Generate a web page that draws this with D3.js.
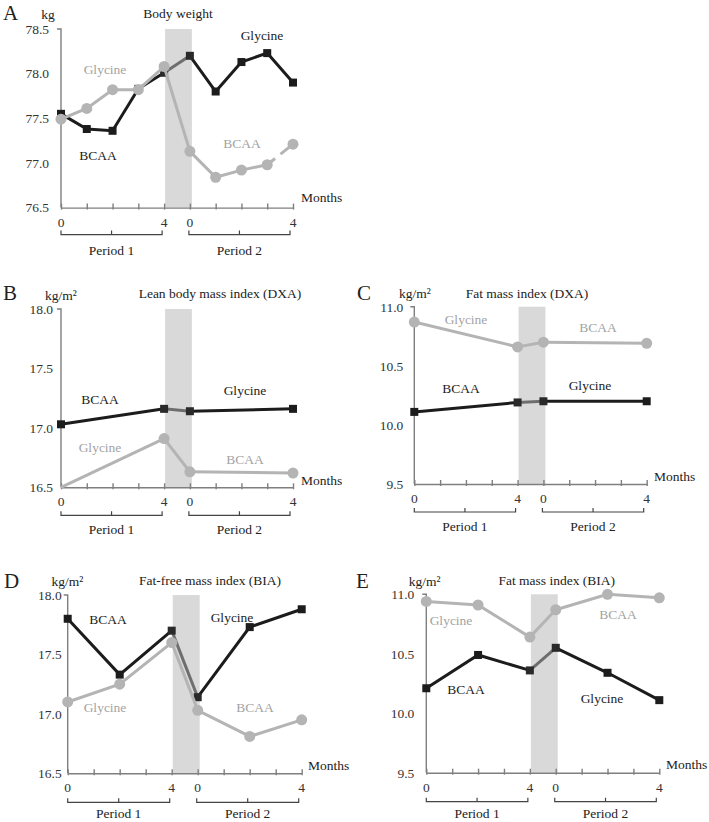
<!DOCTYPE html>
<html>
<head>
<meta charset="utf-8">
<script src="https://cdn.jsdelivr.net/npm/d3@7"></script>
<style>
  html, body { margin: 0; padding: 0; background: #fff; }
  svg { display: block; }
  svg text { font-family: "Liberation Serif", "DejaVu Serif", serif !important; }
</style>
</head>
<body>
<svg id="chart" width="709" height="822"></svg>
<script>
// ---------------- DATA ----------------
// x positions: 0..4 = Period 1 months 0..4, 5..9 = Period 2 months 0..4
const xTickPositions = [0, 4, 5, 9];
const xTickLabels = ["0", "4", "0", "4"];
const periodLabels = ["Period 1", "Period 2"];

// A: Body weight (kg), monthly
const weightPos = [0, 1, 2, 3, 4, 5, 6, 7, 8, 9];
const weightBlack = [77.55, 77.38, 77.36, 77.83, 78.01, 78.20, 77.80, 78.13, 78.23, 77.90]; // BCAA -> Glycine
const weightGray  = [77.49, 77.61, 77.82, 77.82, 78.08, 77.13, 76.84, 76.92, 76.98, 77.21]; // Glycine -> BCAA
const weightTicks = [76.5, 77.0, 77.5, 78.0, 78.5];

// B: Lean body mass index (DXA)
const lbmiPos = [0, 4, 5, 9];
const lbmiBlack = [17.03, 17.16, 17.14, 17.16];
const lbmiGray  = [16.50, 16.91, 16.63, 16.62];
const lbmiTicks = [16.5, 17.0, 17.5, 18.0];

// C: Fat mass index (DXA)
const fmiDxaPos = [0, 4, 5, 9];
const fmiDxaBlack = [10.11, 10.19, 10.20, 10.20];
const fmiDxaGray  = [10.87, 10.66, 10.70, 10.69];
const fmiTicks = [9.5, 10.0, 10.5, 11.0];

// D: Fat-free mass index (BIA)
const ffmiPos = [0, 2, 4, 5, 7, 9];
const ffmiBlack = [17.80, 17.33, 17.70, 17.14, 17.73, 17.88];
const ffmiGray  = [17.10, 17.25, 17.60, 17.03, 16.81, 16.95];

// E: Fat mass index (BIA)
const fmiBiaPos = [0, 2, 4, 5, 7, 9];
const fmiBiaBlack = [10.21, 10.49, 10.36, 10.55, 10.34, 10.11];
const fmiBiaGray  = [10.94, 10.91, 10.64, 10.87, 11.00, 10.97];

// ---------------- STYLE ----------------
const BLACK = "#1c1c1c", GRAY = "#b4b4b4", BRIDGE = "#6e6e6e", GRAYTXT = "#a3a3a3";
const BAND = "#d9d9d9", AXIS = "#7f7f7f";
const FS = 13.5;
const FONT = "Liberation Serif, DejaVu Serif, serif";

const panels = [
  { letter: "A", unit: "kg", title: "Body weight", pos: weightPos, black: weightBlack, gray: weightGray,
    ticks: weightTicks, domain: [76.5, 78.5], fmt: d3.format(".1f"),
    x0: 61, x1: 293, yTop: 29, yBot: 207.6, tickGap: 12, brOff: 27, perOff: 47,
    letterXY: [3, 20], unitXY: [48, 19], titleXY: [178, 18],
    labels: [["Glycine", 262, 40, BLACK], ["Glycine", 105, 74, GRAYTXT], ["BCAA", 98, 160, BLACK], ["BCAA", 242, 148, GRAYTXT]],
    monthsXY: [301, 202], grayDashSeg: 8 },
  { letter: "B", unit: "kg/m²", title: "Lean body mass index (DXA)", pos: lbmiPos, black: lbmiBlack, gray: lbmiGray,
    ticks: lbmiTicks, domain: [16.5, 18.0], fmt: d3.format(".1f"),
    x0: 61, x1: 293, yTop: 309, yBot: 487.3, tickGap: 8, brOff: 28, perOff: 47,
    letterXY: [3, 300], unitXY: [61, 300], titleXY: [220, 298],
    labels: [["BCAA", 100, 404, BLACK], ["Glycine", 245, 395, BLACK], ["Glycine", 100, 452, GRAYTXT], ["BCAA", 245, 464, GRAYTXT]],
    monthsXY: [301, 485] },
  { letter: "C", unit: "kg/m²", title: "Fat mass index (DXA)", pos: fmiDxaPos, black: fmiDxaBlack, gray: fmiDxaGray,
    ticks: fmiTicks, domain: [9.5, 11.0], fmt: d3.format(".1f"),
    x0: 414.3, x1: 646.7, yTop: 306.7, yBot: 484, tickGap: 11, brOff: 28, perOff: 47,
    letterXY: [357, 300], unitXY: [415, 298], titleXY: [527, 298],
    labels: [["Glycine", 466, 324, GRAYTXT], ["BCAA", 598, 332, GRAYTXT], ["BCAA", 461, 393, BLACK], ["Glycine", 590, 390, BLACK]],
    monthsXY: [654, 481] },
  { letter: "D", unit: "kg/m²", title: "Fat-free mass index (BIA)", pos: ffmiPos, black: ffmiBlack, gray: ffmiGray,
    ticks: lbmiTicks, domain: [16.5, 18.0], fmt: d3.format(".1f"),
    x0: 67.7, x1: 301.7, yTop: 595, yBot: 773.3, tickGap: 6, brOff: 29, perOff: 45,
    letterXY: [4, 588], unitXY: [67.5, 586], titleXY: [210, 585],
    labels: [["BCAA", 108, 624, BLACK], ["Glycine", 232, 622, BLACK], ["Glycine", 105, 712, GRAYTXT], ["BCAA", 255, 712, GRAYTXT]],
    monthsXY: [308, 770] },
  { letter: "E", unit: "kg/m²", title: "Fat mass index (BIA)", pos: fmiBiaPos, black: fmiBiaBlack, gray: fmiBiaGray,
    ticks: fmiTicks, domain: [9.5, 11.0], fmt: d3.format(".1f"),
    x0: 426.3, x1: 659.3, yTop: 594.3, yBot: 772.7, tickGap: 12, brOff: 29, perOff: 45,
    letterXY: [356, 588], unitXY: [424.7, 586], titleXY: [556.7, 585],
    labels: [["Glycine", 451, 625, GRAYTXT], ["BCAA", 618, 619, GRAYTXT], ["BCAA", 466, 694, BLACK], ["Glycine", 602, 703, BLACK]],
    monthsXY: [666, 769] }
];

const svg = d3.select("#chart");

function txt(g, s, xx, yy, size, fill, anchor) {
  return g.append("text").attr("x", xx).attr("y", yy).attr("font-size", size)
    .attr("font-family", FONT).attr("fill", fill).attr("text-anchor", anchor || "start").text(s);
}

panels.forEach(p => {
  const g = svg.append("g");
  const x = d3.scaleLinear().domain([0, 9]).range([p.x0, p.x1]);
  const y = d3.scaleLinear().domain(p.domain).range([p.yBot, p.yTop]);

  // washout band
  g.append("rect").attr("x", x(4) + 1).attr("y", p.yTop).attr("width", x(5) - x(4) + 1)
    .attr("height", p.yBot - p.yTop).attr("fill", BAND);

  // y axis (labels only, line, top tick)
  const yAxis = d3.axisLeft(y).tickValues(p.ticks).tickFormat(p.fmt).tickSize(0).tickPadding(p.tickGap);
  const ya = g.append("g").attr("transform", `translate(${p.x0},0)`).call(yAxis).attr("font-family", FONT);
  ya.select(".domain").remove();
  ya.selectAll("text").attr("font-size", FS).attr("fill", "#333").attr("font-family", FONT);
  g.append("path").attr("d", `M${p.x0 - 4},${p.yTop}H${p.x0}V${p.yBot}`)
    .attr("fill", "none").attr("stroke", AXIS).attr("stroke-width", 1.4);

  // x axis
  const xAxis = d3.axisBottom(x).tickValues(d3.range(0, 10)).tickSize(0).tickFormat("");
  const xa = g.append("g").attr("transform", `translate(0,${p.yBot})`).call(xAxis);
  xa.select(".domain").attr("stroke", AXIS).attr("stroke-width", 1.4);
  xa.selectAll(".tick line").attr("y1", -4).attr("y2", 2).attr("stroke", AXIS).attr("stroke-width", 1.4);
  xTickPositions.forEach((d, i) => txt(g, xTickLabels[i], x(d), p.yBot + 19, FS, "#333", "middle"));

  // period brackets
  const yb = p.yBot + p.brOff;
  [[0, 4], [5, 9]].forEach((r, i) => {
    const a = x(r[0]) + (i ? -1 : 0), b = x(r[1]) - (i ? 3 : 2), m = (a + b) / 2;
    g.append("path").attr("d", `M${a},${yb - 4}V${yb}H${b}V${yb - 4}M${m},${yb}V${yb - 4}`)
      .attr("fill", "none").attr("stroke", "#444").attr("stroke-width", 1.2);
    txt(g, periodLabels[i], m, p.yBot + p.perOff, FS, "#222", "middle");
  });

  // series lines
  const line = d3.line().x(d => x(d[0])).y(d => y(d[1]));
  function drawSeries(vals, color, bridgeColor, marker, dashSeg) {
    const pts = p.pos.map((pp, i) => [pp, vals[i]]);
    const p1 = pts.filter(d => d[0] <= 4), p2 = pts.filter(d => d[0] >= 5);
    g.append("path").attr("d", line(p1)).attr("fill", "none").attr("stroke", color).attr("stroke-width", 3);
    g.append("path").attr("d", line([p1[p1.length - 1], p2[0]])).attr("fill", "none")
      .attr("stroke", bridgeColor).attr("stroke-width", 3);
    if (dashSeg !== undefined) {
      const k = pts.findIndex(d => d[0] === dashSeg);
      g.append("path").attr("d", line(p2.slice(0, p2.findIndex(d => d[0] === dashSeg) + 1)))
        .attr("fill", "none").attr("stroke", color).attr("stroke-width", 3);
      g.append("path").attr("d", line([pts[k], pts[k + 1]])).attr("fill", "none")
        .attr("stroke", color).attr("stroke-width", 3).attr("stroke-dasharray", "10,7,60");
    } else {
      g.append("path").attr("d", line(p2)).attr("fill", "none").attr("stroke", color).attr("stroke-width", 3);
    }
    const vis = pts.filter(d => d[1] > p.domain[0]);
    if (marker === "square") {
      g.selectAll(null).data(vis).enter().append("rect")
        .attr("x", d => x(d[0]) - 4).attr("y", d => y(d[1]) - 4).attr("width", 8).attr("height", 8)
        .attr("fill", d => (d[0] === 5 || d[0] === 4) ? "#2a2a2a" : color);
    } else {
      g.selectAll(null).data(vis).enter().append("circle")
        .attr("cx", d => x(d[0])).attr("cy", d => y(d[1])).attr("r", 5.5).attr("fill", color);
    }
  }
  drawSeries(p.black, BLACK, BRIDGE, "square");
  drawSeries(p.gray, GRAY, GRAY, "circle", p.grayDashSeg);

  // texts
  txt(g, p.letter, p.letterXY[0], p.letterXY[1], 21, "#222");
  txt(g, p.unit, p.unitXY[0], p.unitXY[1], FS, "#222", "middle");
  txt(g, p.title, p.titleXY[0], p.titleXY[1], FS, "#222", "middle");
  p.labels.forEach(l => txt(g, l[0], l[1], l[2], FS, l[3], "middle"));
  txt(g, "Months", p.monthsXY[0], p.monthsXY[1], FS, "#222");
});
</script>
</body>
</html>
